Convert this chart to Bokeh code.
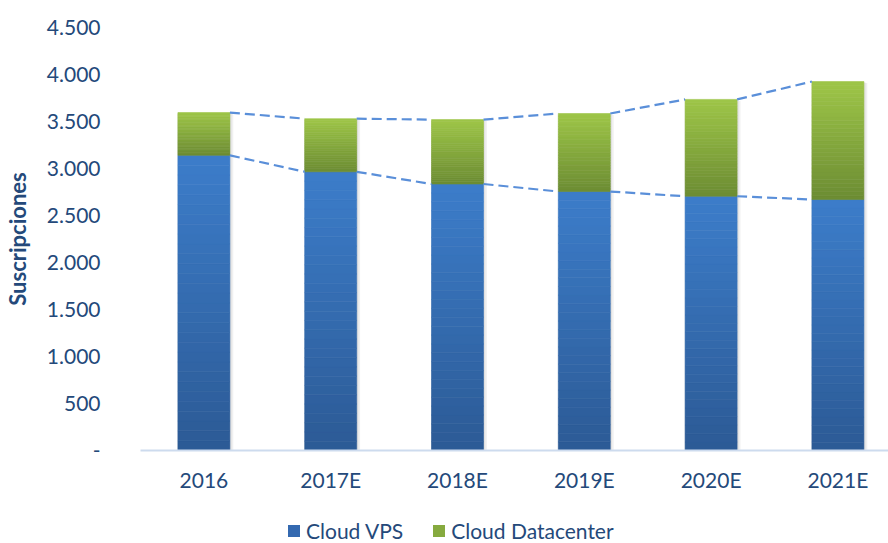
import numpy as np
from bokeh.plotting import figure
from bokeh.layouts import column
from bokeh.models import Range1d, FixedTicker, Legend, LegendItem, ColumnDataSource
from bokeh.embed import file_html
from bokeh.resources import INLINE

categories = ["2016", "2017E", "2018E", "2019E", "2020E", "2021E"]
cloud_vps = [3140, 2965, 2835, 2755, 2705, 2670]
cloud_datacenter = [455, 565, 685, 830, 1030, 1255]
y_ticks = [0, 500, 1000, 1500, 2000, 2500, 3000, 3500, 4000, 4500]
y_tick_labels = ["-", "500", "1.000", "1.500", "2.000", "2.500", "3.000", "3.500", "4.000", "4.500"]
series_names = ["Cloud VPS", "Cloud Datacenter"]

FONT = "Lato"
TXT = "#24497a"
BAR_W = 0.41
N_SLICES = 30

x = list(range(len(categories)))
totals = [a + b for a, b in zip(cloud_vps, cloud_datacenter)]

p = figure(width=888, height=500, output_backend="svg", toolbar_location=None,
           x_range=Range1d(-0.5, 5.399), y_range=Range1d(0, 4500),
           min_border_left=140, min_border_right=0, min_border_top=27, min_border_bottom=50)
p.outline_line_color = None
p.xgrid.grid_line_color = None
p.ygrid.grid_line_color = None


def hex2rgb(h):
    h = h.lstrip("#")
    return np.array([int(h[i:i + 2], 16) for i in (0, 2, 4)], dtype=float)


def gradient_source(bases, values, c_bottom, c_top):
    cb, ct = hex2rgb(c_bottom), hex2rgb(c_top)
    xs, bots, tops, cols = [], [], [], []
    for xi, b, v in zip(x, bases, values):
        for k in range(N_SLICES):
            t = (k + 0.5) / N_SLICES
            c = cb + (ct - cb) * t
            xs.append(xi)
            bots.append(b + v * k / N_SLICES)
            tops.append(b + v * (k + 1) / N_SLICES)
            cols.append("#%02x%02x%02x" % tuple(int(round(q)) for q in c))
    return ColumnDataSource(dict(x=xs, bottom=bots, top=tops, color=cols))


# soft shadow behind the stacked bars
p.vbar(x=[xi + 0.012 for xi in x], bottom=-25, top=[t - 15 for t in totals], width=BAR_W + 0.03,
       fill_color="black", fill_alpha=0.06, line_color=None)
p.vbar(x=[xi + 0.006 for xi in x], bottom=-12, top=[t - 8 for t in totals], width=BAR_W + 0.015,
       fill_color="black", fill_alpha=0.06, line_color=None)

src_vps = gradient_source([0] * len(x), cloud_vps, "#2c5a95", "#3c7dca")
src_dc = gradient_source(cloud_vps, cloud_datacenter, "#6c8c33", "#9ec648")
p.vbar(x="x", bottom="bottom", top="top", width=BAR_W, source=src_vps,
       fill_color="color", line_color="color", line_width=0.6)
p.vbar(x="x", bottom="bottom", top="top", width=BAR_W, source=src_dc,
       fill_color="color", line_color="color", line_width=0.6)

# series lines (right edge of a bar to left edge of the next)
for series in (cloud_vps, totals):
    xs0 = [xi + BAR_W / 2 for xi in x[:-1]]
    xs1 = [xi - BAR_W / 2 for xi in x[1:]]
    p.segment(x0=xs0, y0=series[:-1], x1=xs1, y1=series[1:],
              line_color="#5a8fd9", line_width=2.2, line_dash="10 5")

# axes
xa = p.xaxis[0]
xa.ticker = FixedTicker(ticks=x)
xa.major_label_overrides = {xi: c for xi, c in zip(x, categories)}
xa.axis_line_color = "#cddbee"
xa.axis_line_width = 2
xa.major_tick_line_color = None
xa.major_tick_out = 0
xa.minor_tick_line_color = None
xa.major_label_standoff = 16
xa.major_label_text_font = FONT
xa.major_label_text_font_size = "21px"
xa.major_label_text_color = TXT

ya = p.yaxis[0]
ya.ticker = FixedTicker(ticks=y_ticks)
ya.major_label_overrides = {t: l for t, l in zip(y_ticks, y_tick_labels)}
ya.axis_line_color = None
ya.major_tick_line_color = None
ya.major_tick_out = 0
ya.minor_tick_line_color = None
ya.major_label_standoff = 40
ya.major_label_text_font = FONT
ya.major_label_text_font_size = "21px"
ya.major_label_text_color = TXT
ya.axis_label = "Suscripciones"
ya.axis_label_text_font = FONT
ya.axis_label_text_font_style = "bold"
ya.axis_label_text_font_size = "22px"
ya.axis_label_text_color = TXT
ya.axis_label_standoff = 13

# legend strip (its frame is aligned with the chart frame, which starts at x=140)
lg = figure(width=888, height=43, output_backend="svg", toolbar_location=None,
            x_range=Range1d(0, 1), y_range=Range1d(0, 1),
            min_border=0, min_border_left=0, min_border_right=0, min_border_top=0, min_border_bottom=0)
lg.outline_line_color = None
lg.axis.visible = False
lg.grid.visible = False
r_vps = lg.vbar(x=[0], top=[0], bottom=[0], width=0.01, fill_color="#3469b0", line_color=None)
r_dc = lg.vbar(x=[0], top=[0], bottom=[0], width=0.01, fill_color="#86aa3f", line_color=None)
legend = Legend(items=[LegendItem(label=series_names[0], renderers=[r_vps]),
                       LegendItem(label=series_names[1], renderers=[r_dc])],
                orientation="horizontal", location=(146, 0),
                glyph_width=15, glyph_height=15, label_standoff=5, spacing=28,
                padding=0, margin=0, border_line_color=None, background_fill_alpha=0,
                label_text_font=FONT, label_text_font_size="21px", label_text_color=TXT)
lg.add_layout(legend, "center")

open("out.html", "w").write(file_html(column(p, lg, spacing=0), INLINE))
